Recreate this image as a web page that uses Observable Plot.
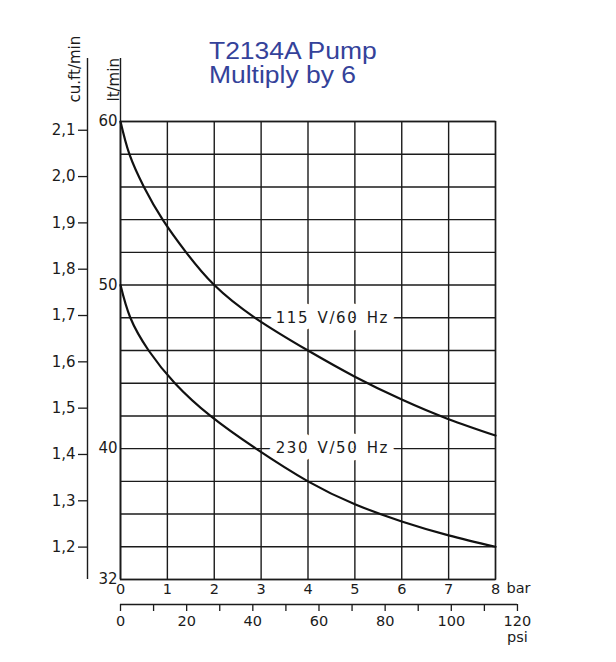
<!DOCTYPE html>
<html>
<head>
<meta charset="utf-8">
<script src="https://cdn.jsdelivr.net/npm/d3@7"></script>
<script src="https://cdn.jsdelivr.net/npm/@observablehq/plot@0.6"></script>
<style>
  html, body { margin: 0; padding: 0; background: #fff; }
  #wrap { position: relative; width: 616px; height: 662px; }
  #title {
    position: absolute; left: 209px; top: 39px;
    font-family: "Liberation Sans", Arial, sans-serif; font-size: 23px; line-height: 24px;
    color: #34429a; transform: scaleX(1.15); transform-origin: left top; white-space: nowrap;
  }
  text[aria-label="series-label"], [aria-label="series-label"] text { letter-spacing: 1.6px; word-spacing: 2px; }
</style>
</head>
<body>
<div id="wrap">
  <div id="title">T2134A Pump<br>Multiply by 6</div>
</div>
<script>
// ---- data ----
const curve115x = [0, 0.19, 0.5, 0.9, 1.4, 2, 2.87, 4, 5, 6, 7, 8];
const curve115y = [60, 58, 56, 54, 52, 50, 48, 46, 44.4, 43.0, 41.8, 40.8];
const curve230x = [0, 0.21, 0.6, 1.16, 1.92, 2.89, 4, 5, 6, 7, 8];
const curve230y = [50, 48, 46, 44, 42, 40, 38, 36.6, 35.55, 34.7, 34.0];

const seriesNames = ["115 V/60 Hz", "230 V/50 Hz"];
const seriesLabelX = [4.52, 4.52];
const seriesLabelY = [48, 40];

const barTicks = [0, 1, 2, 3, 4, 5, 6, 7, 8];
const ltTicks = [60, 50, 40, 32];
const ltGrid = [32, 34, 36, 38, 40, 42, 44, 46, 48, 50, 52, 54, 56, 58, 60];
const cfmTicks = [1.2, 1.3, 1.4, 1.5, 1.6, 1.7, 1.8, 1.9, 2.0, 2.1];
const psiTicks = [0, 10, 20, 30, 40, 50, 60, 70, 80, 90, 100, 110, 120];
const litresPerCuFt = 28.3168;
const psiPerBar = 14.17;          // scale of the psi ruler as drawn
const axisTop = [63.85];          // lt/min at the top of the two vertical axis lines
const axisBottom = [32];

const rows = [];
curve115x.forEach((x, i) => rows.push({series: seriesNames[0], x, y: curve115y[i]}));
curve230x.forEach((x, i) => rows.push({series: seriesNames[1], x, y: curve230y[i]}));
const labels = seriesNames.map((s, i) => ({text: s, x: seriesLabelX[i], y: seriesLabelY[i]}));

const ink = "#1b1b1b";

const chart = Plot.plot({
  width: 616,
  height: 662,
  marginLeft: 120,
  marginRight: 121,
  marginTop: 121,
  marginBottom: 83,
  x: {domain: [0, 8]},
  y: {domain: [32, 60]},
  style: {fontFamily: "'DejaVu Sans', sans-serif", fontSize: "14.5px", color: ink, background: "#fff", overflow: "visible"},
  marks: [
    Plot.gridY(ltGrid, {stroke: ink, strokeOpacity: 1, strokeWidth: 1.4}),
    Plot.gridX(barTicks, {stroke: ink, strokeOpacity: 1, strokeWidth: 1.4}),
    Plot.frame({stroke: ink, strokeWidth: 1.4}),
    Plot.ruleX([0], {y1: axisBottom, y2: axisTop, stroke: ink, strokeWidth: 1.4}),
    Plot.ruleX([0], {y1: axisBottom, y2: axisTop, dx: -33, stroke: ink, strokeWidth: 1.4}),
    Plot.axisY({ticks: ltTicks, tickSize: 0, tickPadding: 3, label: null, fontSize: 15}),
    Plot.axisY({
      ticks: cfmTicks.map(c => c * litresPerCuFt),
      tickFormat: (d, i) => cfmTicks[i].toFixed(1).replace(".", ","),
      tickSize: 9, tickPadding: 3, dx: -33, label: null, fontSize: 15, stroke: ink, strokeWidth: 1.3
    }),
    Plot.axisX({ticks: barTicks, tickSize: 0, tickPadding: 4, label: null}),
    Plot.ruleY(axisBottom, {x1: 0, x2: psiTicks[psiTicks.length - 1] / psiPerBar, dy: 25, stroke: ink, strokeWidth: 1.4}),
    Plot.axisX({
      ticks: psiTicks.map(p => p / psiPerBar),
      tickFormat: (d, i) => (psiTicks[i] % 20 === 0 ? String(psiTicks[i]) : ""),
      tickSize: 7, tickPadding: 4, dy: 25, label: null, stroke: ink, strokeWidth: 1.3
    }),
    Plot.text(["psi"], {x: [psiTicks[psiTicks.length - 1] / psiPerBar], y: axisBottom, dy: 58, fontSize: 14.5}),
    Plot.text(["bar"], {frameAnchor: "bottom-right", dx: 11, dy: 13, textAnchor: "start", fontSize: 14.5}),
    Plot.text(["lt/min"], {frameAnchor: "top-left", rotate: -90, textAnchor: "start", dx: -12, dy: -20, fontSize: 15}),
    Plot.text(["cu.ft/min"], {frameAnchor: "top-left", rotate: -90, textAnchor: "start", dx: -51, dy: -19, fontSize: 15}),
    Plot.text(labels, {
      x: "x", y: "y", text: "text", fontSize: 15, fill: ink,
      stroke: "#fff", strokeWidth: 15, paintOrder: "stroke", strokeLinejoin: "round",
      ariaLabel: () => "series-label"
    }),
    Plot.line(rows, {x: "x", y: "y", z: "series", curve: "natural", stroke: "#111", strokeWidth: 2.2})
  ]
});

document.getElementById("wrap").appendChild(chart);
</script>
</body>
</html>
